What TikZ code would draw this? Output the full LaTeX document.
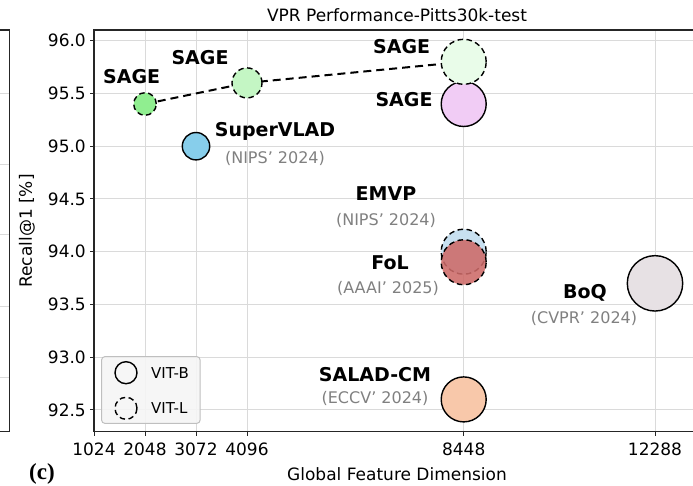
\documentclass[tikz,border=0pt]{standalone}
\usepackage{fontspec}
\setmainfont{DejaVu Sans}
\newfontfamily\panelfont{Liberation Serif}

\definecolor{sagegreen}{RGB}{144,238,144}
\definecolor{sagegreenmid}{RGB}{196,246,196}
\definecolor{sagegreenpale}{RGB}{233,252,233}
\definecolor{sagepink}{RGB}{241,204,245}
\definecolor{vladblue}{RGB}{135,206,235}
\definecolor{emvpblue}{RGB}{200,224,240}
\definecolor{folred}{RGB}{205,106,104}
\definecolor{boqgray}{RGB}{231,225,228}
\definecolor{saladorange}{RGB}{248,200,170}
\definecolor{gridgray}{RGB}{218,218,218}

\newcommand\tickfont{\fontsize{17}{20}\selectfont}
\newcommand\methodfont{\fontsize{19}{22}\selectfont\bfseries}
\newcommand\venuefont{\fontsize{16}{19}\selectfont}

\begin{document}
\begin{tikzpicture}[x=1pt,y=-1pt,
  gridline/.style={draw=gridgray, line width=1pt},
  spine/.style={draw=black!85, line width=1.2pt},
  bubble/.style={circle, inner sep=0pt, draw=black, line width=1.4pt},
  vitl/.style={bubble, dash pattern=on 5.5pt off 3.5pt},
  method/.style={font=\methodfont, inner sep=0pt},
  venue/.style={font=\venuefont, text=black!50, inner sep=0pt},
  ticklab/.style={font=\tickfont, inner sep=0pt},
  axlabel/.style={font=\tickfont, inner sep=0pt},
  trend/.style={draw=black, line width=2pt, dash pattern=on 8pt off 5pt}
]
\useasboundingbox (0,0) rectangle (693,486);
\clip (0,0) rectangle (693,486);

% neighbouring panel edge on the left
\foreach \yy in {94,165,235,306,377}
  \draw[gridline] (0,\yy) -- (9.3,\yy);
\draw[spine] (0,30) -- (9.3,30) -- (9.3,431.5) -- (0,431.5);

% grid
\foreach \xx in {145,196,247,463.7,655}
  \draw[gridline] (\xx,30) -- (\xx,431.7);
\foreach \yy in {40.7,93.45,146.2,198.95,251.7,304.45,357.2,409.95}
  \draw[gridline] (94,\yy) -- (693,\yy);

% spines and ticks
\draw[spine] (693,30) -- (94,30) -- (94,431.7) -- (693,431.7);
\foreach \yy/\lab in {40.7/96.0,93.45/95.5,146.2/95.0,198.95/94.5,251.7/94.0,304.45/93.5,357.2/93.0,409.95/92.5}{
  \draw[spine, line width=1pt] (94,\yy) -- (89.5,\yy);
  \node[ticklab, anchor=east] at (86,\yy) {\lab};
}
\foreach \xx/\lab in {94/1024,145/2048,196/3072,247/4096,463.7/8448,655/12288}{
  \draw[spine, line width=1pt] (\xx,431.7) -- (\xx,436.2);
  \node[ticklab] at (\xx,449) {\lab};
}

% title, axis labels, panel tag
\node[axlabel] (title) at (397,15) {VPR Performance-Pitts30k-test};
\node[axlabel, rotate=90] (ylab) at (27,231) {Recall@1 [\%]};
\node[axlabel] (xlab) at (397,474) {Global Feature Dimension};
\node[font=\panelfont\fontsize{23}{25}\selectfont\bfseries, anchor=north, inner sep=0pt] (panel) at (42,463) {(c)};

% data bubbles
\node[bubble, minimum size=45pt, fill=sagepink] (sageB) at (463.7,104) {};
\node[bubble, minimum size=27.4pt, fill=vladblue] (vlad) at (196,146.2) {};
\node[vitl, minimum size=45pt, fill=emvpblue] (emvp) at (463.7,251.7) {};
\node[vitl, minimum size=45pt, fill=folred, fill opacity=0.88] (fol) at (463.7,262.25) {};
\node[bubble, minimum size=55.4pt, fill=boqgray] (boq) at (655,283.35) {};
\node[bubble, minimum size=45pt, fill=saladorange] (salad) at (463.7,399.4) {};

% SAGE ViT-L scaling trend, bubbles drawn over the dashed line
\coordinate (tS) at (145,104);
\coordinate (tM) at (247,82.9);
\coordinate (tL) at (463.7,61.8);
\draw[trend] (tS) -- (tM) -- (tL);
\node[vitl, minimum size=22.6pt, fill=sagegreen] (sageS) at (tS) {};
\node[vitl, minimum size=30pt, fill=sagegreenmid] (sageM) at (tM) {};
\node[vitl, minimum size=45pt, fill=sagegreenpale] (sageL) at (tL) {};

% method labels
\node[method] (lSageS) at (131.7,76.7) {SAGE};
\node[method] (lSageM) at (200,58) {SAGE};
\node[method] (lSageL) at (401.7,46.7) {SAGE};
\node[method] (lSageB) at (404,100) {SAGE};
\node[method] (lVlad) at (275,131.7) {SuperVLAD};
\node[venue] (vVlad) at (275,158) {(NIPS' 2024)};
\node[method] (lEmvp) at (386,194) {EMVP};
\node[venue] (vEmvp) at (386,220) {(NIPS' 2024)};
\node[method] (lFol) at (390,263) {FoL};
\node[venue] (vFol) at (388,288) {(AAAI' 2025)};
\node[method] (lBoq) at (585,293) {BoQ};
\node[venue] (vBoq) at (584,318) {(CVPR' 2024)};
\node[method] (lSalad) at (375,375) {SALAD-CM};
\node[venue] (vSalad) at (375,398) {(ECCV' 2024)};

% legend
\node[draw=black!25, fill=black!4, fill opacity=0.9, rounded corners=3pt, line width=1pt,
      minimum width=98.3pt, minimum height=66.6pt, inner sep=0pt] (legend) at (150.85,390) {};
\node[bubble, minimum size=22pt] (legB) at (126,372.7) {};
\node[vitl, minimum size=22pt] (legL) at (126,408.3) {};
\node[ticklab, font=\fontsize{15}{18}\selectfont, anchor=west] (legBt) at (151,372.7) {VIT-B};
\node[ticklab, font=\fontsize{15}{18}\selectfont, anchor=west] (legLt) at (151,408.3) {VIT-L};
\end{tikzpicture}
\end{document}
